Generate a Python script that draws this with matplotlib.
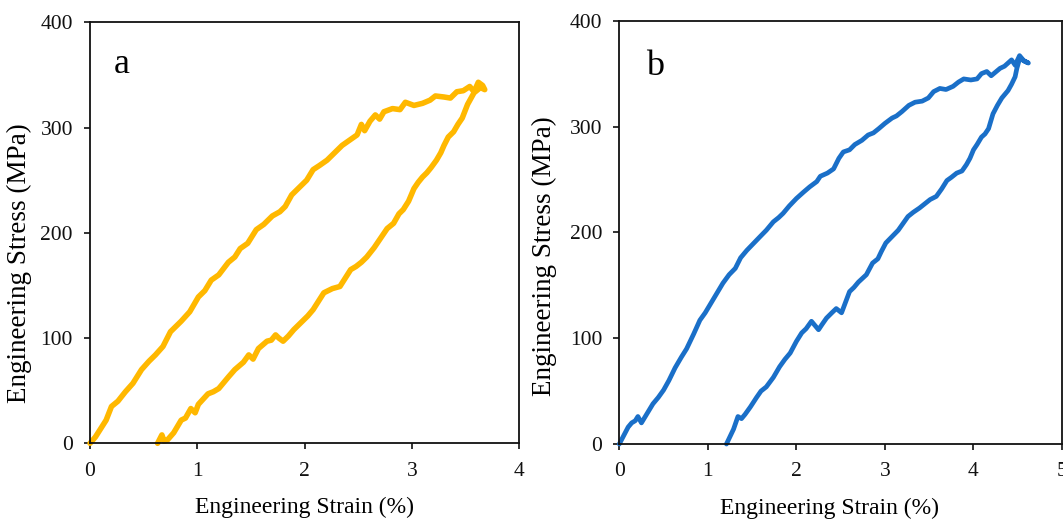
import matplotlib
matplotlib.use("Agg")
import matplotlib.pyplot as plt

plt.rcParams['font.family'] = ['Liberation Serif', 'DejaVu Serif']

# ---------------- data ----------------
# Panel a: loading then unloading (strain %, stress MPa)
a_strain = [0, 0.05, 0.1, 0.15, 0.2, 0.26, 0.33, 0.4, 0.48, 0.55, 0.61, 0.68, 0.75, 0.85, 0.93,
            1.01, 1.07, 1.13, 1.2, 1.29, 1.35, 1.40, 1.47, 1.55, 1.62, 1.70, 1.77, 1.82, 1.88,
            1.96, 2.02, 2.08, 2.14, 2.21, 2.28, 2.35, 2.42, 2.49, 2.53, 2.56, 2.61, 2.66, 2.70,
            2.74, 2.82, 2.89, 2.94, 3.02, 3.10, 3.17, 3.22, 3.30, 3.36, 3.42, 3.48, 3.54, 3.58,
            3.62, 3.66, 3.68,
            3.64, 3.58, 3.52, 3.47, 3.43, 3.39, 3.34, 3.30, 3.27, 3.23, 3.18, 3.14, 3.10, 3.06,
            3.02, 2.97, 2.92, 2.88, 2.83, 2.77, 2.71, 2.65, 2.58, 2.53, 2.48, 2.43, 2.38, 2.33,
            2.26, 2.18, 2.13, 2.08, 2.03, 1.99, 1.94, 1.90, 1.85, 1.80, 1.76, 1.73, 1.69, 1.65,
            1.57, 1.52, 1.48, 1.43, 1.35, 1.29, 1.20, 1.15, 1.10, 1.01, 0.98, 0.94, 0.89, 0.85,
            0.78, 0.72, 0.69, 0.67, 0.64, 0.63]
a_stress = [0, 6, 14, 22, 35, 40, 49, 57, 70, 78, 84, 92, 106, 116, 125,
            139, 145, 155, 160, 172, 177, 185, 190, 203, 208, 216, 220, 225, 236,
            244, 250, 260, 264, 269, 276, 283, 288, 293, 303, 297, 306, 312, 308,
            315, 318, 317, 324, 321, 323, 326, 330, 329, 328, 334, 335, 339, 334,
            343, 340, 336,
            338, 333, 322, 309, 303, 296, 291, 283, 276, 269, 262, 257, 253, 248,
            242, 230, 222, 218, 209, 204, 195, 186, 177, 172, 168, 165, 157, 149,
            147, 143, 135, 127, 121, 117, 112, 108, 102, 97, 100, 103, 98, 97,
            90, 80, 84, 77, 70, 63, 52, 49, 47, 37, 29, 33, 24, 22,
            10, 3, 2, 8, 2, 0]

# Panel b: loading then unloading
b_strain = [0, 0.05, 0.10, 0.14, 0.18, 0.21, 0.25, 0.30, 0.38, 0.44, 0.50, 0.56, 0.63, 0.70,
            0.76, 0.84, 0.91, 0.97, 1.02, 1.10, 1.17, 1.24, 1.31, 1.37, 1.44, 1.52, 1.59, 1.66,
            1.74, 1.80, 1.85, 1.92, 2.00, 2.08, 2.15, 2.23, 2.27, 2.35, 2.42, 2.48, 2.53, 2.60,
            2.66, 2.74, 2.81, 2.87, 2.93, 3.00, 3.08, 3.13, 3.19, 3.27, 3.34, 3.42, 3.49, 3.55,
            3.62, 3.69, 3.77, 3.83, 3.89, 3.97, 4.04, 4.09, 4.15, 4.20, 4.30, 4.35, 4.43, 4.47,
            4.52, 4.57, 4.62,
            4.55, 4.52, 4.49, 4.47, 4.43, 4.39, 4.32, 4.27, 4.22, 4.17, 4.13, 4.09, 4.04, 4.00,
            3.96, 3.92, 3.87, 3.81, 3.75, 3.70, 3.64, 3.58, 3.51, 3.45, 3.39, 3.32, 3.26, 3.20,
            3.15, 3.08, 3.01, 2.96, 2.92, 2.86, 2.79, 2.70, 2.65, 2.60, 2.55, 2.51, 2.45, 2.40,
            2.34, 2.29, 2.25, 2.21, 2.17, 2.11, 2.06, 2.00, 1.93, 1.87, 1.81, 1.74, 1.66, 1.60,
            1.55, 1.48, 1.42, 1.38, 1.34, 1.29, 1.25, 1.21]
b_stress = [0, 8, 16, 20, 22, 26, 20, 27, 38, 44, 51, 60, 72, 82,
            90, 104, 117, 124, 131, 142, 152, 160, 166, 176, 183, 190, 196, 202,
            210, 214, 218, 225, 232, 238, 243, 248, 253, 256, 260, 270, 276, 278,
            283, 287, 292, 294, 298, 303, 308, 310, 314, 320, 323, 324, 327, 333,
            336, 335, 338, 342, 345, 344, 345, 350, 352, 348, 355, 357, 363, 358,
            367, 362, 360,
            363, 364, 355, 347, 340, 334, 327, 320, 312, 298, 293, 290, 283, 278,
            270, 264, 258, 256, 252, 249, 241, 234, 231, 227, 223, 219, 215, 208,
            202, 196, 190, 182, 175, 171, 160, 153, 148, 144, 133, 124, 128, 124,
            119, 113, 108, 112, 116, 109, 105, 97, 86, 80, 73, 63, 54, 50,
            44, 35, 28, 24, 26, 14, 7, 0]

yticks = [0, 100, 200, 300, 400]
a_xticks = [0, 1, 2, 3, 4]
b_xticks = [0, 1, 2, 3, 4, 5]
xlabel = "Engineering Strain (%)"
ylabel = "Engineering Stress (MPa)"

# ---------------- figure ----------------
fig = plt.figure(figsize=(10.63, 5.23), dpi=100)
ax_a = fig.add_axes([0.0847, 0.1524, 0.4036, 0.805])
ax_b = fig.add_axes([0.5826, 0.1510, 0.4165, 0.8094])

yellow = "#FFB800"
blue = "#1A6FC8"

ax_a.plot(a_strain, a_stress, color=yellow, lw=4.0, solid_joinstyle='round',
          solid_capstyle='round', clip_on=False)
ax_b.plot(b_strain, b_stress, color=blue, lw=3.4, solid_joinstyle='round',
          solid_capstyle='round', clip_on=False)

ax_a.set_xlim(0, 4)
ax_b.set_xlim(0, 5)
ax_a.set_xticks(a_xticks)
ax_b.set_xticks(b_xticks)

for ax in (ax_a, ax_b):
    ax.set_ylim(0, 400)
    ax.set_yticks(yticks)
    for s in ax.spines.values():
        s.set_color("#111111")
        s.set_linewidth(1.3)
    ax.tick_params(axis='both', direction='out', length=4.3, width=1.2,
                   labelsize=15.5, colors="#111111")
    ax.tick_params(axis='y', pad=8.0)
    ax.tick_params(axis='x', pad=9)
    ax.set_xlabel(xlabel, fontsize=17)
    ax.set_ylabel(ylabel, fontsize=19.5)

ax_a.xaxis.set_label_coords(0.501, -0.128)
ax_b.xaxis.set_label_coords(0.474, -0.128)
ax_a.yaxis.set_label_coords(-0.135, 0.428)
ax_b.yaxis.set_label_coords(-0.140, 0.445)

ax_a.text(0.056, 0.88, "a", transform=ax_a.transAxes, fontsize=26,
          ha='left', va='baseline')
ax_b.text(0.060, 0.872, "b", transform=ax_b.transAxes, fontsize=26,
          ha='left', va='baseline')

fig.savefig("out.png", dpi=100)
